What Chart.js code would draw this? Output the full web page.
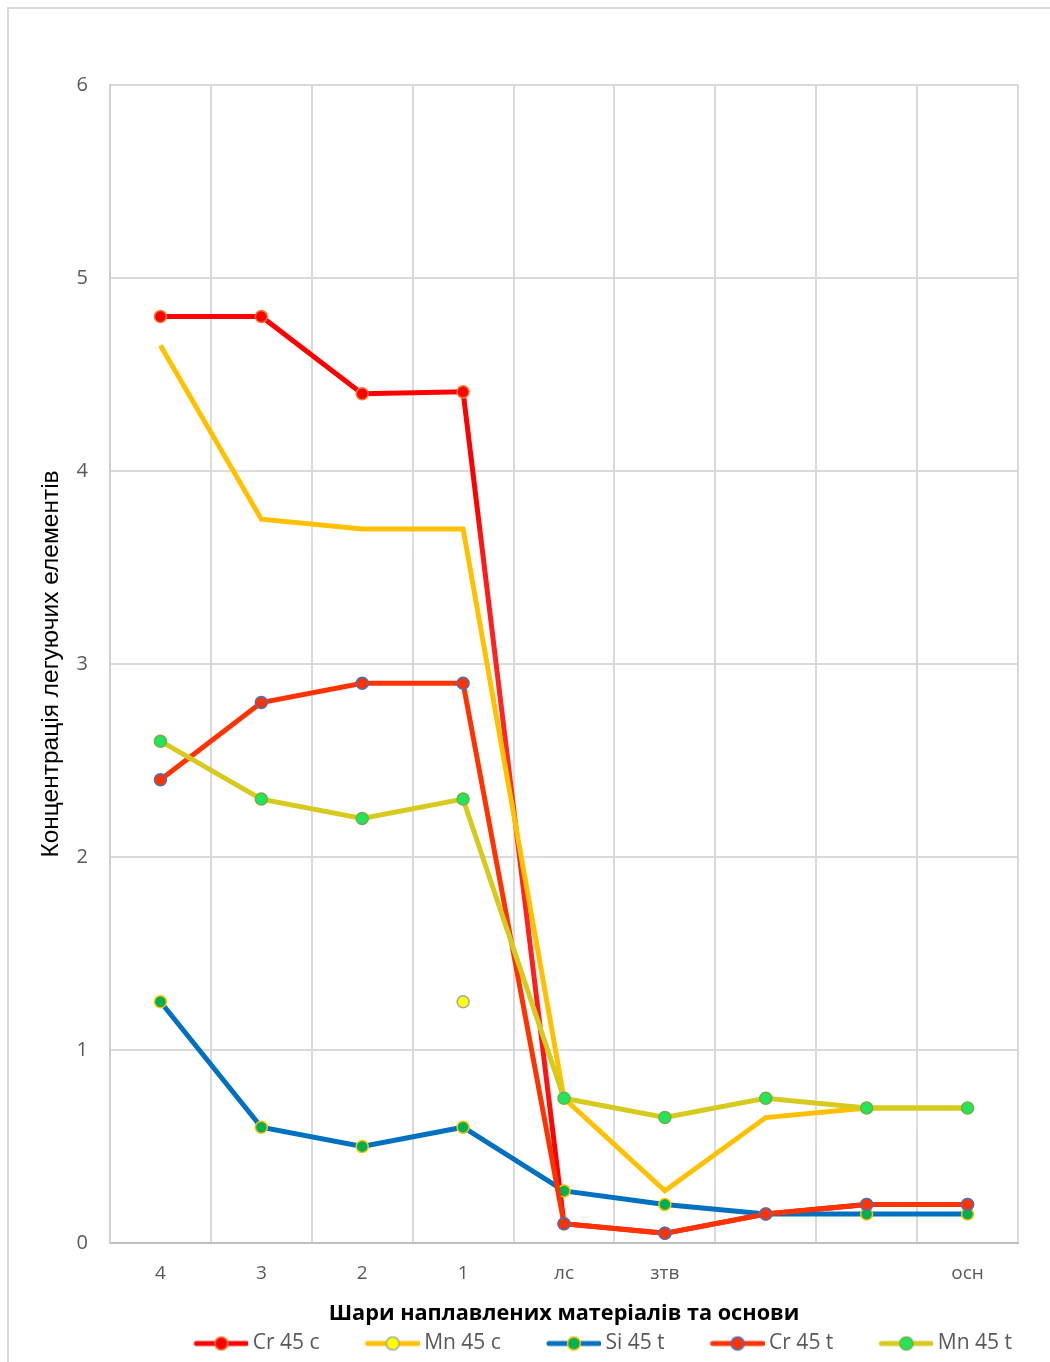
<!DOCTYPE html>
<html>
<head>
<meta charset="utf-8">
<script src="https://cdn.jsdelivr.net/npm/chart.js@4"></script>
<style>
  html, body { margin: 0; padding: 0; background: #fff; }
  #wrap { width: 1050px; height: 1362px; }
</style>
</head>
<body>
<div id="wrap"><canvas id="layersChart" width="1050" height="1362"></canvas></div>
<script>
// layers, from the top deposited layer down to the base metal
var layers = ["4", "3", "2", "1", "лс", "зтв", "", "", "осн"];

var cr45c = [4.8, 4.8, 4.4, 4.41, 0.1, 0.05, 0.15, 0.2, 0.2];
var mn45c = [4.65, 3.75, 3.7, 3.7, 0.75, 0.27, 0.65, 0.7, 0.7];
var si45t = [1.25, 0.6, 0.5, 0.6, 0.27, 0.2, 0.15, 0.15, 0.15];
var cr45t = [2.4, 2.8, 2.9, 2.9, 0.1, 0.05, 0.15, 0.2, 0.2];
var mn45t = [2.6, 2.3, 2.2, 2.3, 0.75, 0.65, 0.75, 0.7, 0.7];
// single Mn 45 c marker left at layer 1
var mn45cMark = [null, null, null, 1.25, null, null, null, null, null];

var yTicks = [0, 1, 2, 3, 4, 5, 6];

var TEXT_GREY = "#595959";

// legend icon: a short line with the marker in its middle, shifted right
// inside a wider transparent box so the items sit further apart
function legendIcon(lineColor, fill, border) {
    var c = document.createElement("canvas");
    c.width = 100;
    c.height = 20;
    var g = c.getContext("2d");
    g.strokeStyle = lineColor;
    g.lineWidth = 5;
    g.lineCap = "round";
    g.beginPath();
    g.moveTo(48, 10);
    g.lineTo(98, 10);
    g.stroke();
    g.beginPath();
    g.arc(73, 10, 6.5, 0, Math.PI * 2);
    g.fillStyle = fill;
    g.fill();
    g.lineWidth = 1.5;
    g.strokeStyle = border;
    g.stroke();
    return c;
}

var icons = [
    legendIcon("#FF0000", "#FF0000", "#ED7D31"),
    legendIcon("#FFC000", "#FFFF00", "#A5A5A5"),
    legendIcon("#0070C0", "#00B050", "#FFC000"),
    legendIcon("#FF3300", "#FF3300", "#4472C4"),
    legendIcon("#D6CA1E", "#22E65A", "#70AD47")
];

// soft white halo under some series, as in the office chart
var glowPlugin = {
    id: "glow",
    beforeDatasetDraw: function(chart, args) {
        var ds = chart.data.datasets[args.index];
        if (ds.glow) {
            var ctx = chart.ctx;
            ctx.save();
            ctx.shadowColor = "rgba(255,255,255,1)";
            ctx.shadowBlur = 26;
            ctx.shadowOffsetX = 3;
            ctx.shadowOffsetY = 6;
        }
    },
    afterDatasetDraw: function(chart, args) {
        if (chart.data.datasets[args.index].glow) {
            chart.ctx.restore();
        }
    }
};

// white background and the thin frame of the chart object
var framePlugin = {
    id: "frame",
    beforeDraw: function(chart) {
        var ctx = chart.ctx;
        ctx.save();
        ctx.fillStyle = "#fff";
        ctx.fillRect(0, 0, chart.width, chart.height);
        ctx.strokeStyle = "#D9D9D9";
        ctx.lineWidth = 2;
        ctx.strokeRect(8, 8, 1060, 1380);
        ctx.restore();
    }
};

function lineSet(label, data, color, fill, border, order) {
    return {
        label: label,
        data: data,
        borderColor: color,
        backgroundColor: color,
        borderWidth: 5,
        pointRadius: 6,
        pointBorderWidth: 1.5,
        pointBackgroundColor: fill,
        pointBorderColor: border,
        pointStyle: "circle",
        tension: 0,
        order: order
    };
}

var mnC = lineSet("Mn 45 c", mn45c, "#FFC000", "#FFFF00", "#A5A5A5", 4);
mnC.pointRadius = 0;
mnC.glow = true;

var mnCMark = {
    label: "Mn 45 c mark",
    data: mn45cMark,
    showLine: false,
    borderColor: "#FFC000",
    pointRadius: 6,
    pointBorderWidth: 1.5,
    pointBackgroundColor: "#FFFF00",
    pointBorderColor: "#A5A5A5",
    order: 4,
    glow: true
};

var ctx = document.getElementById("layersChart").getContext("2d");
var layersChart = new Chart(ctx, {
    type: "line",
    data: {
        labels: layers,
        datasets: [
            lineSet("Cr 45 c", cr45c, "#FF0000", "#FF0000", "#ED7D31", 5),
            mnC,
            lineSet("Si 45 t", si45t, "#0070C0", "#00B050", "#FFC000", 3),
            lineSet("Cr 45 t", cr45t, "#FF3300", "#FF3300", "#4472C4", 2),
            lineSet("Mn 45 t", mn45t, "#D6CA1E", "#22E65A", "#70AD47", 1),
            mnCMark
        ]
    },
    plugins: [framePlugin, glowPlugin],
    options: {
        responsive: false,
        animation: false,
        events: [],
        layout: { padding: { top: 85, right: 32, left: 0, bottom: -2 } },
        scales: {
            x: {
                offset: true,
                grid: { offset: true, color: "#D9D9D9", lineWidth: 2, drawTicks: false },
                border: { color: "#BFBFBF", width: 2 },
                ticks: {
                    color: TEXT_GREY,
                    font: { family: "'Open Sans'", size: 19 },
                    padding: 19,
                    autoSkip: false,
                    maxRotation: 0
                },
                title: {
                    display: true,
                    text: "Шари наплавлених матеріалів та основи",
                    color: "#000",
                    font: { family: "'Open Sans'", size: 21.7, weight: "bold" },
                    padding: { top: 0, bottom: 0 }
                },
                afterFit: function(scale) { scale.height = 84; }
            },
            y: {
                min: 0,
                max: 6,
                afterBuildTicks: function(scale) {
                    scale.ticks = yTicks.map(function(v) { return { value: v }; });
                },
                grid: { color: "#D9D9D9", lineWidth: 2, drawTicks: false },
                border: { color: "#D0D0D0", width: 2 },
                ticks: {
                    color: TEXT_GREY,
                    font: { family: "'Open Sans'", size: 20 },
                    padding: 22
                },
                title: {
                    display: true,
                    text: "Концентрація легуючих елементів",
                    color: "#000",
                    font: { family: "'Liberation Sans'", size: 24.5 },
                    padding: { top: 37, bottom: 0 }
                },
                afterFit: function(scale) { scale.width = 110; }
            }
        },
        plugins: {
            tooltip: { enabled: false },
            legend: {
                position: "bottom",
                align: "end",
                labels: {
                    usePointStyle: true,
                    pointStyleWidth: 88,
                    padding: 6,
                    color: TEXT_GREY,
                    font: { family: "'Open Sans'", size: 21 },
                    filter: function(item) { return item.datasetIndex < 5; },
                    sort: function(a, b) { return a.datasetIndex - b.datasetIndex; },
                    generateLabels: function(chart) {
                        var items = Chart.defaults.plugins.legend.labels.generateLabels(chart);
                        items.forEach(function(item) {
                            if (item.datasetIndex < 5) {
                                item.pointStyle = icons[item.datasetIndex];
                            }
                        });
                        return items;
                    }
                }
            }
        }
    }
});
</script>
</body>
</html>
